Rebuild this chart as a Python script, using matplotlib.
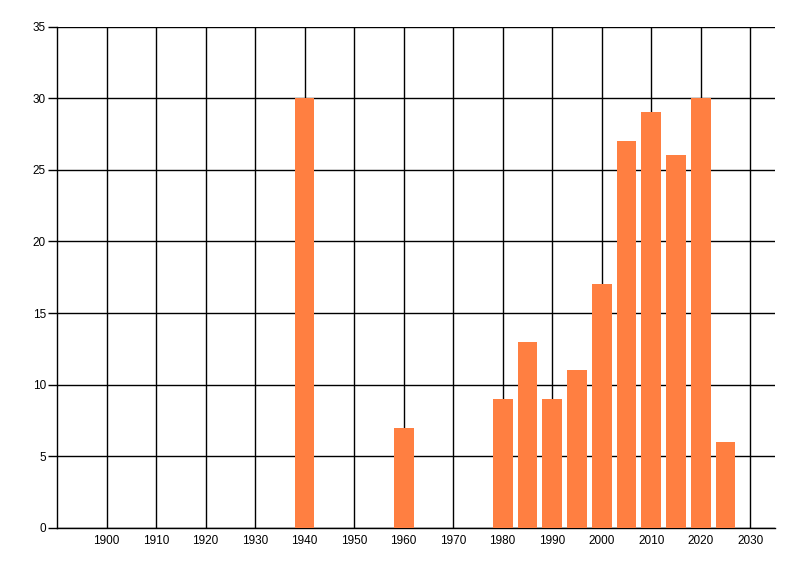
import matplotlib
matplotlib.use("Agg")
import matplotlib.pyplot as plt

years = [1940, 1960, 1980, 1985, 1990, 1995, 2000, 2005, 2010, 2015, 2020, 2025]
counts = [30, 7, 9, 13, 9, 11, 17, 27, 29, 26, 30, 6]
xticks = list(range(1900, 2031, 10))
yticks = list(range(0, 36, 5))

plt.rcParams['font.family'] = ['Liberation Sans', 'DejaVu Sans']
fig = plt.figure(figsize=(8, 5.76), dpi=100)
ax = fig.add_axes([57/800, 48/576, (775-57)/800, (528-26.5)/576])

ax.bar(years, counts, width=4, color='#FF7F41', zorder=3)
ax.set_xlim(1890, 2035)
ax.set_ylim(0, 35)
ax.set_xticks(xticks)
ax.set_yticks(yticks)
ax.set_xticklabels([str(v) for v in xticks])
ax.set_yticklabels([str(v) for v in yticks])
ax.grid(True, color='black', linewidth=1.0, zorder=1)
ax.set_axisbelow(True)
for s in ['top', 'right']:
    ax.spines[s].set_visible(False)
for s in ['left', 'bottom']:
    ax.spines[s].set_color('black')
    ax.spines[s].set_linewidth(1.0)
ax.tick_params(axis='x', length=0, pad=5, labelsize=8.5)
ax.tick_params(axis='y', length=6.5, width=1.0, pad=1.5, labelsize=8.5)

fig.savefig('out.png', dpi=100)
